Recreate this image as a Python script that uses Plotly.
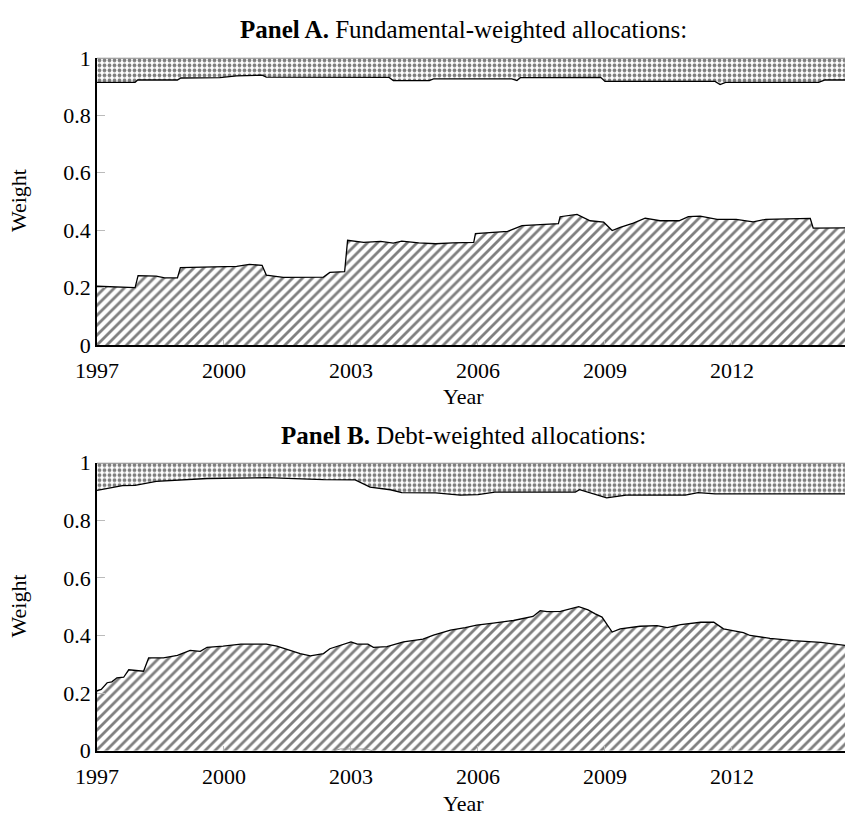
import plotly.graph_objects as go

# ---- Panel A: fundamental-weighted allocations ----
fund_low_year = [1997.0, 1997.9, 1997.97, 1998.4, 1998.6, 1998.9, 1998.97, 1999.5, 2000.3, 2000.6,
                 2000.9, 2001.0, 2001.4, 2002.35, 2002.5, 2002.85, 2002.92, 2003.3, 2003.7, 2004.0,
                 2004.2, 2004.6, 2005.0, 2005.4, 2005.9, 2005.94, 2006.7, 2007.04, 2007.7, 2007.9,
                 2007.94, 2008.34, 2008.65, 2008.97, 2009.17, 2009.36, 2009.67, 2009.95, 2010.3, 2010.75,
                 2010.97, 2011.25, 2011.65, 2012.1, 2012.5, 2012.8, 2013.85, 2013.92, 2014.7]
fund_low = [0.205, 0.200, 0.242, 0.240, 0.234, 0.234, 0.270, 0.272, 0.274, 0.281,
            0.278, 0.244, 0.236, 0.237, 0.253, 0.256, 0.365, 0.358, 0.361, 0.355,
            0.362, 0.356, 0.353, 0.356, 0.358, 0.388, 0.396, 0.416, 0.421, 0.423,
            0.447, 0.455, 0.433, 0.428, 0.399, 0.410, 0.425, 0.442, 0.433, 0.433,
            0.447, 0.449, 0.438, 0.438, 0.429, 0.438, 0.441, 0.407, 0.408]

fund_high_year = [1997.0, 1997.9, 1997.96, 1998.9, 1998.98, 1999.9, 2000.3, 2000.75, 2000.9, 2001.0,
                  2003.9, 2004.0, 2004.85, 2004.95, 2006.8, 2006.92, 2007.0, 2008.9, 2009.0, 2011.6,
                  2011.72, 2011.85, 2014.05, 2014.2, 2014.7]
fund_high = [0.915, 0.915, 0.923, 0.923, 0.930, 0.931, 0.937, 0.941, 0.940, 0.933,
             0.932, 0.921, 0.921, 0.927, 0.927, 0.921, 0.931, 0.932, 0.918, 0.918,
             0.907, 0.915, 0.915, 0.923, 0.923]

# ---- Panel B: debt-weighted allocations ----
debt_low_year = [1997.0, 1997.1, 1997.24, 1997.35, 1997.47, 1997.63, 1997.75, 1997.94, 1998.1, 1998.22,
                 1998.57, 1998.9, 1999.2, 1999.44, 1999.6, 1999.98, 2000.4, 2000.7, 2001.0, 2001.25,
                 2001.57, 2001.8, 2002.04, 2002.35, 2002.5, 2003.0, 2003.15, 2003.4, 2003.53, 2003.85,
                 2004.24, 2004.7, 2004.95, 2005.35, 2005.7, 2005.97, 2006.36, 2006.84, 2007.3, 2007.47,
                 2007.63, 2007.95, 2008.38, 2008.6, 2008.77, 2008.93, 2009.17, 2009.36, 2009.83, 2010.23,
                 2010.47, 2010.79, 2011.26, 2011.57, 2011.8, 2012.27, 2012.43, 2012.9, 2013.45, 2014.1,
                 2014.7]
debt_low = [0.208, 0.213, 0.236, 0.239, 0.253, 0.255, 0.281, 0.278, 0.276, 0.322,
            0.322, 0.331, 0.348, 0.345, 0.359, 0.363, 0.370, 0.370, 0.370, 0.363,
            0.348, 0.337, 0.329, 0.337, 0.354, 0.378, 0.370, 0.370, 0.359, 0.361,
            0.378, 0.387, 0.401, 0.419, 0.427, 0.436, 0.443, 0.452, 0.466, 0.486,
            0.483, 0.484, 0.500, 0.489, 0.475, 0.464, 0.412, 0.423, 0.432, 0.434,
            0.427, 0.438, 0.446, 0.446, 0.423, 0.410, 0.400, 0.390, 0.382, 0.376,
            0.365]

debt_high_year = [1997.0, 1997.2, 1997.6, 1997.9, 1998.4, 1999.6, 2001.0, 2002.35, 2003.1, 2003.45,
                  2003.93, 2004.2, 2005.0, 2005.58, 2006.0, 2006.4, 2008.3, 2008.4, 2009.04, 2009.5,
                  2010.9, 2011.2, 2011.6, 2014.7]
debt_high = [0.904, 0.910, 0.920, 0.921, 0.935, 0.945, 0.948, 0.941, 0.940, 0.915,
             0.906, 0.896, 0.895, 0.887, 0.889, 0.898, 0.898, 0.906, 0.878, 0.887,
             0.887, 0.896, 0.892, 0.892]

debt_other_year = [2002.6, 2002.75, 2003.35, 2003.5]
debt_other = [0.0, 0.006, 0.006, 0.0]

# ---- axis labels ----
year_ticks = [1997, 2000, 2003, 2006, 2009, 2012]
weight_ticks = [0, 0.2, 0.4, 0.6, 0.8, 1]
weight_labels = ["0", "0.2", "0.4", "0.6", "0.8", "1"]

FONT = "Liberation Serif"
W, H = 845, 828
LEFT = 97
X_END = 1997 + (W - LEFT) / 42.33

hatch = dict(shape="/", fgcolor="black", bgcolor="white", size=7, solidity=0.4)
dots = dict(shape=".", fgcolor="black", bgcolor="white", size=5, solidity=0.45)

fig = go.Figure()


def add_panel(xa, ya, low_x, low_y, high_x, high_y):
    fig.add_trace(go.Scatter(x=low_x, y=low_y, mode="lines", fill="tozeroy",
                             fillcolor="white", fillpattern=hatch,
                             line=dict(color="black", width=1.3),
                             xaxis=xa, yaxis=ya, hoverinfo="skip", showlegend=False))
    fig.add_trace(go.Scatter(x=high_x, y=[1.0] * len(high_x), mode="lines",
                             line=dict(color="#888888", width=2),
                             xaxis=xa, yaxis=ya, hoverinfo="skip", showlegend=False))
    fig.add_trace(go.Scatter(x=high_x, y=high_y, mode="lines", fill="tonexty",
                             fillcolor="white", fillpattern=dots,
                             line=dict(color="black", width=1.3),
                             xaxis=xa, yaxis=ya, hoverinfo="skip", showlegend=False))


add_panel("x", "y", fund_low_year, fund_low, fund_high_year, fund_high)
add_panel("x2", "y2", debt_low_year, debt_low, debt_high_year, debt_high)
fig.add_trace(go.Scatter(x=debt_other_year, y=debt_other, mode="lines",
                         line=dict(color="#999999", width=1),
                         xaxis="x2", yaxis="y2", hoverinfo="skip", showlegend=False))


def py(px):
    return 1 - px / H


xcommon = dict(range=[1997, X_END], tickvals=year_ticks, ticks="inside", ticklen=5,
               tickcolor="#bbbbbb", showline=True, linecolor="black", linewidth=1.5,
               showgrid=False, zeroline=False, ticklabelstandoff=5,
               tickfont=dict(family=FONT, size=22, color="black"), domain=[0, 1])
ycommon = dict(range=[0, 1], tickvals=weight_ticks, ticktext=weight_labels, ticks="inside",
               ticklen=8, tickcolor="#bbbbbb", showline=True, linecolor="black", linewidth=1.5,
               showgrid=False, zeroline=False,
               tickfont=dict(family=FONT, size=22, color="black"))

fig.update_layout(
    width=W, height=H,
    margin=dict(l=LEFT, r=0, t=0, b=0),
    paper_bgcolor="white", plot_bgcolor="white",
    xaxis=dict(xcommon, anchor="y"),
    yaxis=dict(ycommon, anchor="x", domain=[py(343.5), py(47.3)]),
    xaxis2=dict(xcommon, anchor="y2"),
    yaxis2=dict(ycommon, anchor="x2", domain=[py(761.7), py(464.7)]),
)

titles = [("<b>Panel A.</b> Fundamental-weighted allocations:", 18),
          ("<b>Panel B.</b> Debt-weighted allocations:", 437)]
for text, ypx in titles:
    fig.add_annotation(text=text, xref="paper", yref="paper", x=(463 - LEFT) / (W - LEFT),
                       y=py(ypx), showarrow=False, xanchor="center", yanchor="middle",
                       font=dict(family=FONT, size=25, color="black"))

for ypx in (396, 816):
    fig.add_annotation(text="Year", xref="paper", yref="paper", x=(463 - LEFT) / (W - LEFT),
                       y=py(ypx), showarrow=False, xanchor="center", yanchor="middle",
                       font=dict(family=FONT, size=22, color="black"))

for ypx in (195, 613):
    fig.add_annotation(text="Weight", xref="paper", yref="paper", x=(18 - LEFT) / (W - LEFT),
                       y=py(ypx), showarrow=False, xanchor="center", yanchor="middle",
                       textangle=-90, font=dict(family=FONT, size=22, color="black"))

fig.write_html("out.html")
